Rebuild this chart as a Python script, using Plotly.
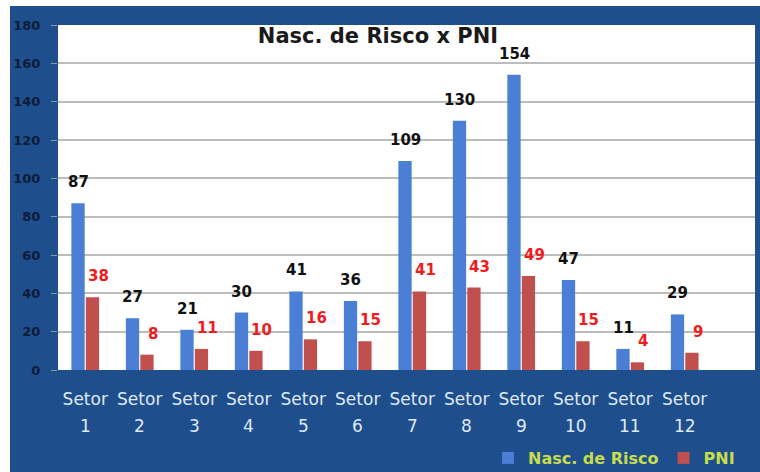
import plotly.graph_objects as go

# ---- data ----
categories = ["Setor 1", "Setor 2", "Setor 3", "Setor 4", "Setor 5", "Setor 6",
              "Setor 7", "Setor 8", "Setor 9", "Setor 10", "Setor 11", "Setor 12"]
tick_top = ["Setor"] * 12
tick_bottom = ["1", "2", "3", "4", "5", "6", "7", "8", "9", "10", "11", "12"]
nasc_risco = [87, 27, 21, 30, 41, 36, 109, 130, 154, 47, 11, 29]
pni = [38, 8, 11, 10, 16, 15, 41, 43, 49, 15, 4, 9]
y_ticks = [0, 20, 40, 60, 80, 100, 120, 140, 160, 180]

FRAME = "#1f4e8d"
BLUE = "#4a7fd5"
RED = "#c0504d"
FONT = "DejaVu Sans"

W, H = 760, 472
ML, MR, MT, MB = 58, 5, 25, 102
PW, PH = W - ML - MR, H - MT - MB

def px_x(px):
    return (px - ML) / PW

def px_y(py):
    return (H - MB - py) / PH

fig = go.Figure()
fig.add_trace(go.Bar(x=categories, y=nasc_risco, name="Nasc. de Risco",
                     marker=dict(color=BLUE, line=dict(width=0))))
fig.add_trace(go.Bar(x=categories, y=pni, name="PNI",
                     marker=dict(color=RED, line=dict(width=0))))

annotations = []
for c, v in zip(categories, nasc_risco):
    annotations.append(dict(x=c, y=v, xref="x", yref="y", text=str(v), showarrow=False,
                            xshift=-7, yshift=10, yanchor="bottom",
                            font=dict(family=FONT, size=15, color="#111111", weight="bold")))
for c, v in zip(categories, pni):
    annotations.append(dict(x=c, y=v, xref="x", yref="y", text=str(v), showarrow=False,
                            xshift=13, yshift=10, yanchor="bottom",
                            font=dict(family=FONT, size=15, color="#ee1c1c", weight="bold")))
for c, n in zip(categories, tick_bottom):
    annotations.append(dict(x=c, y=px_y(426), xref="x", yref="paper", text=n, showarrow=False,
                            yanchor="middle",
                            font=dict(family=FONT, size=17, color="#dfe9f8")))

shapes = [
    dict(type="rect", xref="paper", yref="paper", x0=px_x(-5), x1=px_x(10), y0=-2, y1=2,
         fillcolor="white", line=dict(width=0), layer="above"),
    dict(type="rect", xref="paper", yref="paper", x0=-2, x1=2, y0=px_y(6), y1=px_y(-5),
         fillcolor="white", line=dict(width=0), layer="above"),
]

fig.update_layout(
    width=W, height=H,
    margin=dict(l=ML, r=MR, t=MT, b=MB, pad=0, autoexpand=False),
    paper_bgcolor=FRAME, plot_bgcolor="white",
    barmode="group", bargap=0.47, bargroupgap=0.08,
    title=dict(text="Nasc. de Risco x PNI", x=378 / W, xref="container", xanchor="center",
               y=1 - 36 / H, yref="container", yanchor="middle",
               font=dict(family=FONT, size=21, color="#1a1a1a", weight="bold")),
    xaxis=dict(type="category", range=[-0.5, 12.29], tickmode="array",
               tickvals=categories, ticktext=tick_top, showgrid=False, automargin=False,
               showline=True, linecolor=FRAME, linewidth=2, ticks="",
               ticklabelstandoff=13,
               tickfont=dict(family=FONT, size=17, color="#dfe9f8")),
    yaxis=dict(range=[0, 180], tickmode="array", tickvals=y_ticks, automargin=False,
               showgrid=True, gridcolor="#bcbcbc", gridwidth=1.5, zeroline=False,
               ticks="outside", ticklen=6, tickcolor="#8c99ad", ticklabelstandoff=8,
               tickfont=dict(family=FONT, size=13, color="#0d1c38", weight="bold")),
    legend=dict(orientation="h", xref="container", x=740 / W, xanchor="right",
                yref="container", y=1 - 458 / H, yanchor="middle",
                bgcolor="rgba(0,0,0,0)", itemwidth=30,
                font=dict(family=FONT, size=16, color="#c6dd4e", weight="bold")),
    annotations=annotations,
    shapes=shapes,
)

fig.write_html("out.html", config={"displayModeBar": False},
               post_script="document.body.style.margin='0';")
